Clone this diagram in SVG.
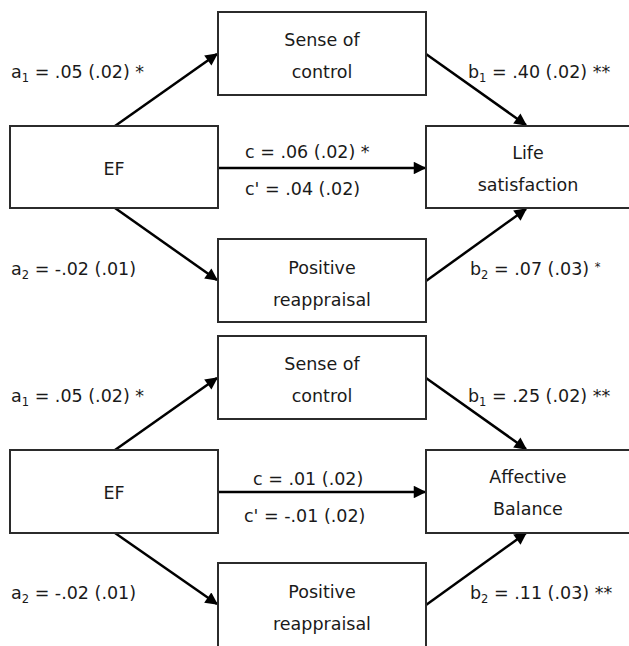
<svg xmlns="http://www.w3.org/2000/svg" width="629" height="646" viewBox="0 0 629 646">
<style>
.box{fill:#fff;stroke:#2b2b2b;stroke-width:2}
.t{font-family:"DejaVu Sans","Liberation Sans",sans-serif;font-size:17.5px;fill:#1a1a1a}
.c{text-anchor:middle}
.e{stroke:#000;stroke-width:2.5;fill:none;marker-end:url(#ah)}
.sub{font-size:11.5px}
</style>
<defs>
<marker id="ah" viewBox="0 0 10 10" refX="9" refY="5" markerWidth="5.5" markerHeight="5" orient="auto" markerUnits="strokeWidth">
<path d="M0,0 L10,5 L0,10 z" fill="#000"/>
</marker>
</defs>
<rect width="629" height="646" fill="#fff"/>
<g id="connectors">
<line class="e" x1="115" y1="126" x2="217" y2="54"/>
<line class="e" x1="426" y1="54" x2="526" y2="125"/>
<line class="e" x1="218" y1="168" x2="425" y2="168"/>
<line class="e" x1="115" y1="208" x2="217" y2="280"/>
<line class="e" x1="426" y1="281" x2="526" y2="209"/>
<line class="e" x1="115" y1="450" x2="217" y2="378"/>
<line class="e" x1="426" y1="378" x2="526" y2="449"/>
<line class="e" x1="218" y1="492" x2="425" y2="492"/>
<line class="e" x1="115" y1="533" x2="217" y2="604"/>
<line class="e" x1="426" y1="605" x2="526" y2="533"/>
</g>
<g id="p1-sense"><rect class="box" x="218" y="12" width="208" height="83"/>
<text class="t c" x="322" y="46">Sense of</text><text class="t c" x="322" y="78">control</text></g>
<g id="p1-ef"><rect class="box" x="10" y="126" width="208" height="82"/>
<text class="t c" x="114" y="175">EF</text></g>
<g id="p1-life"><rect class="box" x="426" y="126" width="215" height="82"/>
<text class="t c" x="528" y="159">Life</text><text class="t c" x="528" y="191">satisfaction</text></g>
<g id="p1-pos"><rect class="box" x="218" y="239" width="208" height="83"/>
<text class="t c" x="322" y="274">Positive</text><text class="t c" x="322" y="306">reappraisal</text></g>
<g id="p2-sense"><rect class="box" x="218" y="336" width="208" height="83"/>
<text class="t c" x="322" y="370">Sense of</text><text class="t c" x="322" y="402">control</text></g>
<g id="p2-ef"><rect class="box" x="10" y="450" width="208" height="83"/>
<text class="t c" x="114" y="499">EF</text></g>
<g id="p2-aff"><rect class="box" x="426" y="450" width="215" height="83"/>
<text class="t c" x="528" y="483">Affective</text><text class="t c" x="528" y="515">Balance</text></g>
<g id="p2-pos"><rect class="box" x="218" y="563" width="208" height="84"/>
<text class="t c" x="322" y="598">Positive</text><text class="t c" x="322" y="630">reappraisal</text></g>
<g id="labels">
<text class="t" x="11" y="78">a<tspan class="sub" dy="4">1</tspan><tspan dy="-4"> = .05 (.02) *</tspan></text>
<text class="t" x="468" y="78">b<tspan class="sub" dy="4">1</tspan><tspan dy="-4"> = .40 (.02) **</tspan></text>
<text class="t" x="245" y="158">c = .06 (.02) *</text>
<text class="t" x="245" y="195">c' = .04 (.02)</text>
<text class="t" x="11" y="275">a<tspan class="sub" dy="4">2</tspan><tspan dy="-4"> = -.02 (.01)</tspan></text>
<text class="t" x="470" y="275">b<tspan class="sub" dy="4">2</tspan><tspan dy="-4"> = .07 (.03) </tspan><tspan class="sub" dy="-4">*</tspan></text>
<text class="t" x="11" y="402">a<tspan class="sub" dy="4">1</tspan><tspan dy="-4"> = .05 (.02) *</tspan></text>
<text class="t" x="468" y="402">b<tspan class="sub" dy="4">1</tspan><tspan dy="-4"> = .25 (.02) **</tspan></text>
<text class="t" x="253" y="485">c = .01 (.02)</text>
<text class="t" x="244" y="522">c' = -.01 (.02)</text>
<text class="t" x="11" y="599">a<tspan class="sub" dy="4">2</tspan><tspan dy="-4"> = -.02 (.01)</tspan></text>
<text class="t" x="470" y="599">b<tspan class="sub" dy="4">2</tspan><tspan dy="-4"> = .11 (.03) **</tspan></text>
</g>
</svg>
